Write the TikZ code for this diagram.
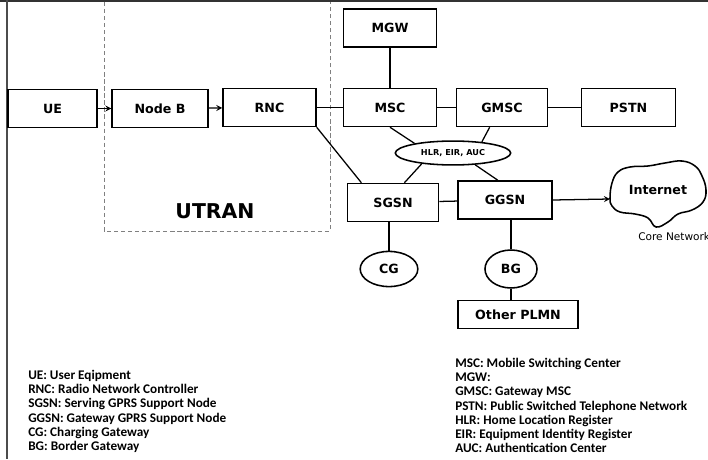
\documentclass[tikz,border=0pt]{standalone}
\usepackage{fontspec}
\setmainfont{DejaVu Sans}
\newfontfamily\legfont{Carlito}
\usetikzlibrary{shapes.geometric}

\tikzset{
	blk/.style={draw, line width=1.1pt, minimum width=66pt, minimum height=27pt, inner sep=0pt, font=\bfseries\fontsize{9}{10}\selectfont},
	oval/.style={draw, ellipse, line width=1.1pt, inner sep=0pt, font=\bfseries\fontsize{9}{10}\selectfont},
	link/.style={line width=0.9pt},
	key/.style={anchor=north west, align=left, inner sep=0pt, font=\legfont\bfseries\fontsize{9.4}{10.1}\selectfont}
}

\begin{document}
\begin{tikzpicture}[x=0.025cm, y=-0.025cm, >=stealth]
	\useasboundingbox (0,0) rectangle (708,459);
	% frame edges
	\draw[line width=1.6pt, black!80] (0,1) -- (708,1);
	\draw[line width=1.8pt, black!70] (7,0) -- (7,459);
	
	% UTRAN part
	\draw[gray, densely dashed, thin] (104,2) -- (104,231) -- (330,231) -- (330,2);
	\node[font=\bfseries\fontsize{14.5}{16}\selectfont] (utran) at (215,211) {UTRAN};
	\node[blk, minimum width=63pt] (ue) at (52.5,108.5) {UE};
	\node[blk, minimum width=68pt] (nodeb) at (160,108.5) {Node B};
	\node[blk] (rnc) at (269.5,107.5) {RNC};
	
	% core network
	\node[blk] (mgw) at (390,28) {MGW};
	\node[blk] (msc) at (390,107.5) {MSC};
	\node[blk, minimum width=65pt] (gmsc) at (502,107.5) {GMSC};
	\node[blk, minimum width=67pt] (pstn) at (628.5,107.5) {PSTN};
	\node[oval, minimum width=82pt, minimum height=17pt, font=\bfseries\fontsize{5.8}{7}\selectfont] (hlr) at (453,153) {HLR, EIR, AUC};
	\node[blk, minimum width=65pt] (sgsn) at (393,202.5) {SGSN};
	\node[blk, minimum width=67pt] (ggsn) at (505,200) {GGSN};
	\node[oval, minimum width=41pt, minimum height=25pt] (cg) at (389,269) {CG};
	\node[oval, minimum width=37pt, minimum height=27pt] (bg) at (511,269) {BG};
	\node[blk, minimum width=85pt, minimum height=20pt] (plmn) at (518,314.5) {Other PLMN};
	
	% internet cloud
	\draw[line width=1.1pt] plot[smooth cycle, tension=0.7] coordinates {(610,198) (612,183) (618,172) (630,167) (648,166) (665,163) (682,161) (695,166) (702,176) (706,190) (703,202) (692,210) (678,214) (668,222) (656,227) (648,218) (635,214) (620,212) (612,206)};
	\coordinate (netin) at (610,199);
	\node[font=\bfseries\fontsize{9}{10}\selectfont] (inet) at (658,190) {Internet};
	\node[anchor=west, inner sep=0pt, font=\fontsize{7.5}{9}\selectfont] (core) at (638,237) {Core Network};
	
	% links
	\draw[link, ->] (ue) -- (nodeb);
	\draw[link, ->] (nodeb) -- (rnc);
	\draw[link] (rnc) -- (msc);
	\draw[link] (rnc.south east) -- (sgsn.148);
	\draw[link] (mgw) -- (msc);
	\draw[link] (msc) -- (gmsc);
	\draw[link] (gmsc) -- (pstn);
	\draw[link] (msc.south) -- (hlr.166);
	\draw[link] (gmsc.238) -- (hlr.21);
	\draw[link] (sgsn.60) -- (hlr.199);
	\draw[link] (ggsn.110) -- (hlr.332);
	\draw[link] (sgsn) -- (ggsn);
	\draw[link, ->] (ggsn.east) -- (netin);
	\draw[link] (cg.north) -- (cg |- sgsn.south);
	\draw[link] (bg.north) -- (bg |- ggsn.south);
	\draw[link] (bg.south) -- (bg |- plmn.north);
	
	% legends
	\node[key] (keyl) at (28,370) {UE: User Eqipment\\RNC: Radio Network Controller\\SGSN: Serving GPRS Support Node\\GGSN: Gateway GPRS Support Node\\CG: Charging Gateway\\BG: Border Gateway};
	\node[key] (keyr) at (455,358) {MSC: Mobile Switching Center\\MGW:\\GMSC: Gateway MSC\\PSTN: Public Switched Telephone Network\\HLR: Home Location Register\\EIR: Equipment Identity Register\\AUC: Authentication Center};
\end{tikzpicture}
\end{document}
